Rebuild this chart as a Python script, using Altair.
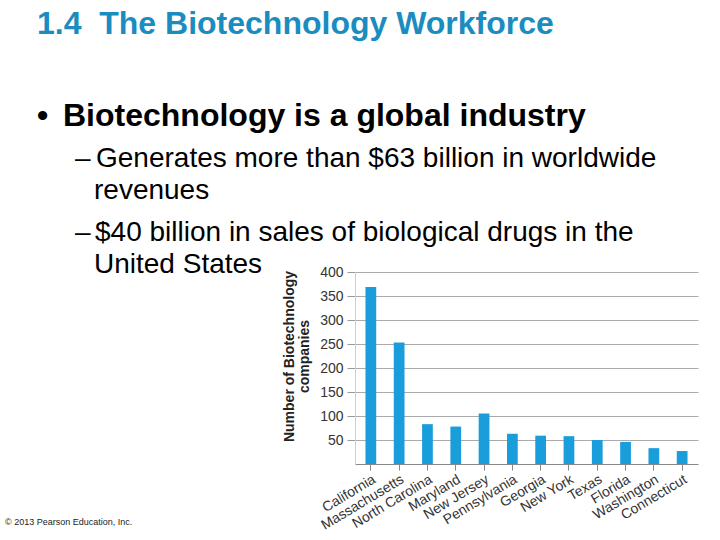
import altair as alt
import pandas as pd

states = ["California", "Massachusetts", "North Carolina", "Maryland", "New Jersey",
          "Pennsylvania", "Georgia", "New York", "Texas", "Florida", "Washington", "Connecticut"]
companies = [369, 253, 83, 78, 105, 63, 59, 58, 50, 46, 33, 27]
y_ticks = [50, 100, 150, 200, 250, 300, 350, 400]

slide_title = "1.4\u00a0 The Biotechnology Workforce"
bullet_main = "Biotechnology is a global industry"
sub_lines = ["Generates more than $63 billion in worldwide", "revenues",
             "$40 billion in sales of biological drugs in the", "United States"]
copyright_note = "© 2013 Pearson Education, Inc."

FONT = "Liberation Sans"
BLUE = "#1a9ddb"

df = pd.DataFrame({"state": states, "companies": companies})

bars = alt.Chart(df).mark_bar(color=BLUE).encode(
    x=alt.X("state:N", sort=states,
            scale=alt.Scale(paddingInner=0.62, paddingOuter=0.37),
            axis=alt.Axis(title=None, labelAngle=-31, labelFont=FONT, labelFontSize=14,
                          labelColor="#333333", domainColor="#888888", tickColor="#888888",
                          tickSize=6, labelPadding=2, grid=False)),
    y=alt.Y("companies:Q", scale=alt.Scale(domain=[0, 400], nice=False),
            axis=alt.Axis(values=y_ticks, title=["Number of Biotechnology", "companies"],
                          titleFont=FONT, titleFontSize=14, titleFontWeight="bold",
                          titleColor="#222222", titleX=-62, titleY=84, titleAngle=-90,
                          titleAlign="center", titleBaseline="alphabetic", titleLineHeight=15,
                          labelFont=FONT, labelFontSize=14, labelColor="#333333",
                          labelPadding=4, tickSize=8, tickColor="#999999",
                          domainColor="#d0d0d0", gridColor="#aaaaaa", gridWidth=1)),
)


def txt(s, x, y, size, weight="normal", color="black"):
    return alt.Chart(pd.DataFrame({"t": [s]})).mark_text(
        align="left", baseline="alphabetic", font=FONT, fontSize=size,
        fontWeight=weight, color=color,
    ).encode(x=alt.value(x), y=alt.value(y), text="t:N")


OX, OY = 355, 272
layers = [bars,
          txt(slide_title, 37 - OX, 34 - OY, 32, "bold", "#1a8cc0"),
          txt("•", 37 - OX, 126 - OY, 32, "bold"),
          txt(bullet_main, 63 - OX, 126 - OY, 32, "bold"),
          txt("–", 75 - OX, 167 - OY, 28),
          txt(sub_lines[0], 96 - OX, 167 - OY, 28),
          txt(sub_lines[1], 94 - OX, 199 - OY, 28),
          txt("–", 75 - OX, 241 - OY, 28),
          txt(sub_lines[2], 95 - OX, 241 - OY, 28),
          txt(sub_lines[3], 94 - OX, 273 - OY, 28),
          txt(copyright_note, 5 - OX, 525 - OY, 9, "normal", "#222222")]

chart = alt.layer(*layers).properties(
    width=343, height=192,
    autosize=alt.AutoSizeParams(type="none"),
    padding={"left": OX, "top": OY, "right": 22, "bottom": 76},
    background="white",
).configure_view(stroke=None)

chart.save("out.html", embed_options={"renderer": "svg", "actions": False})
